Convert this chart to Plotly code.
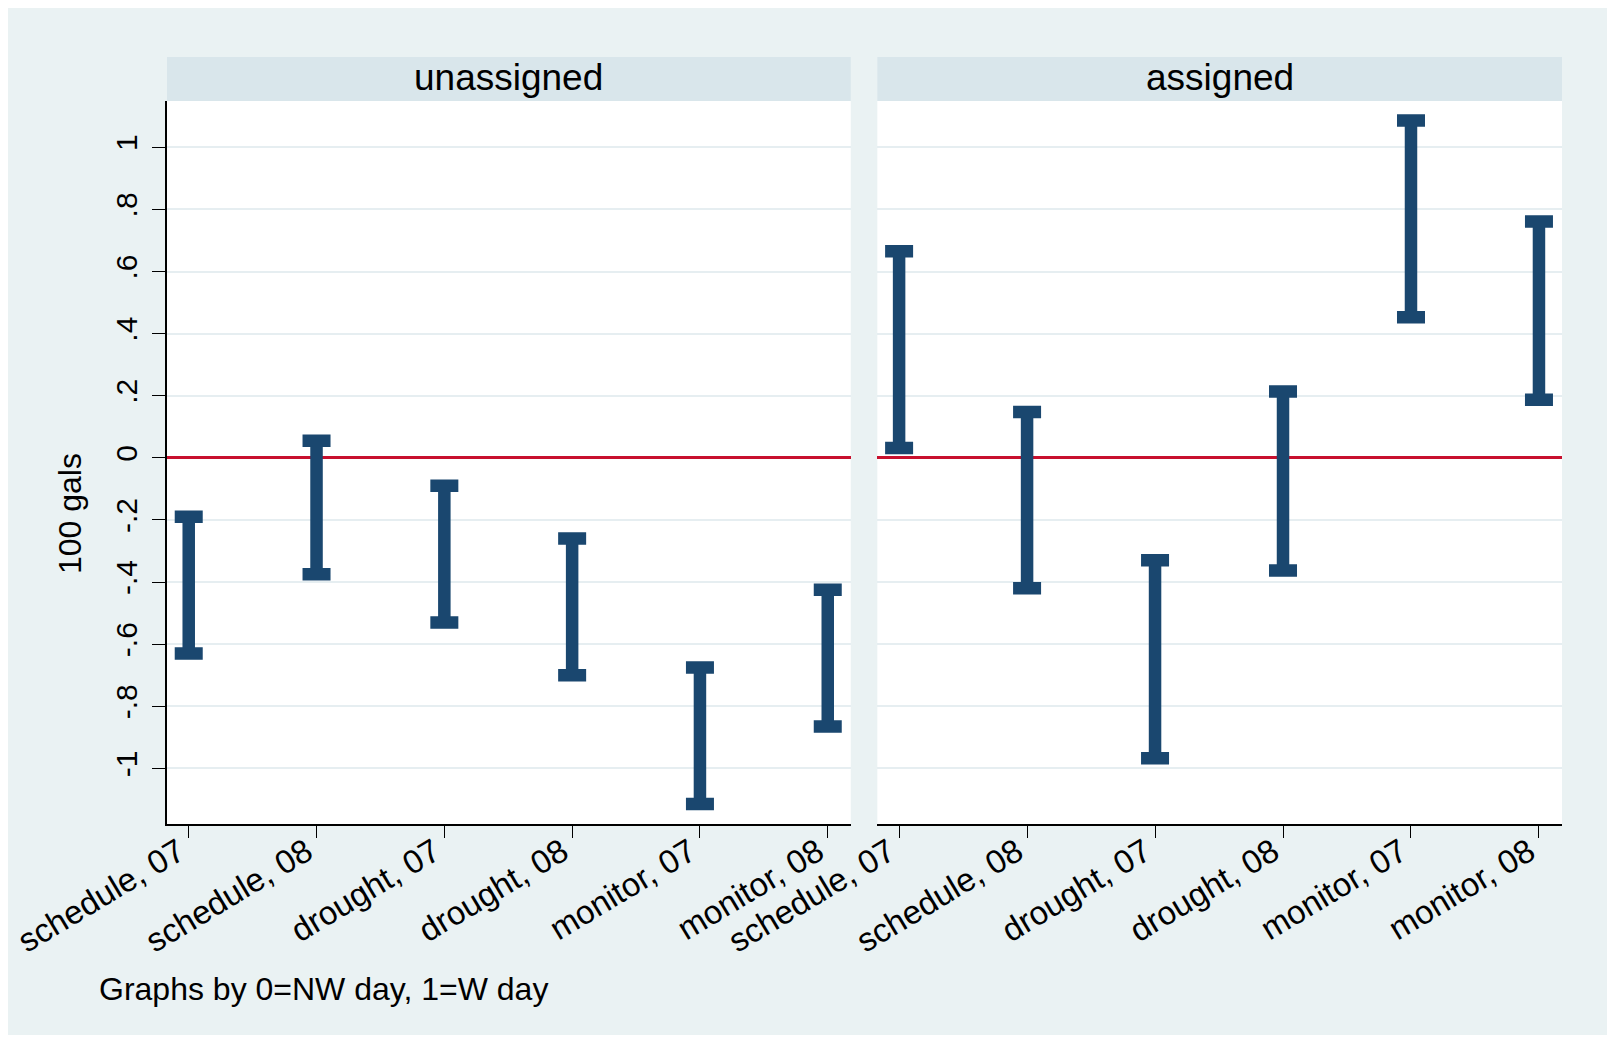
import plotly.graph_objects as go
from plotly.subplots import make_subplots

categories = ["schedule, 07", "schedule, 08", "drought, 07", "drought, 08", "monitor, 07", "monitor, 08"]
panels = ["unassigned", "assigned"]

unassigned_hi = [-0.19, 0.055, -0.09, -0.26, -0.675, -0.425]
unassigned_lo = [-0.63, -0.375, -0.53, -0.70, -1.115, -0.865]
assigned_hi = [0.665, 0.148, -0.33, 0.214, 1.086, 0.761]
assigned_lo = [0.032, -0.42, -0.967, -0.363, 0.453, 0.187]

ytick_vals = [1, 0.8, 0.6, 0.4, 0.2, 0, -0.2, -0.4, -0.6, -0.8, -1]
ytick_text = ["1", ".8", ".6", ".4", ".2", "0", "-.2", "-.4", "-.6", "-.8", "-1"]

footer = "Graphs by 0=NW day, 1=W day"
ytitle = "100 gals"

# page has an 8px body margin; figure sized so page is exactly filled
OFF = 8
W, H = 1615 - 2 * OFF, 1043 - 2 * OFF
L = 167 - OFF
T = 101 - OFF
R = W - (1562.5 - OFF)
B = H - (824 - OFF)
PW, PH = W - L - R, H - T - B

FONT = "Liberation Sans, Arial, Helvetica, sans-serif"
BAR = "#1a476f"
OUTER = "#eaf2f3"
STRIP = "#d9e6eb"
GRID = "#e6eef1"

def px_x(px):
    return (px - OFF - L) / PW

def px_y(py):
    return (H - B - (py - OFF)) / PH

fig = make_subplots(rows=1, cols=2, shared_yaxes=False, horizontal_spacing=0.0)

xs = list(range(1, len(categories) + 1))
for i, (hi, lo) in enumerate([(unassigned_hi, unassigned_lo), (assigned_hi, assigned_lo)]):
    fig.add_trace(go.Scatter(
        x=xs, y=lo, mode="markers",
        marker=dict(size=1, color="rgba(0,0,0,0)"),
        error_y=dict(type="data", symmetric=False,
                     array=[h - l for h, l in zip(hi, lo)],
                     arrayminus=[0] * len(lo),
                     thickness=12.5, width=14, color=BAR),
        showlegend=False, hoverinfo="skip"), row=1, col=i + 1)

left_dom = [0, px_x(851)]
right_dom = [px_x(877.6), 1]

xcommon = dict(range=[0.83, 6.18], tickmode="array", tickvals=xs, ticktext=categories,
               tickangle=-31, ticks="outside", ticklen=12, tickwidth=1.3, tickcolor="black",
               ticklabelstandoff=-18, ticklabelshift=-10, automargin=False,
               showline=True, linecolor="black", linewidth=1.5, showgrid=False, zeroline=False,
               tickfont=dict(family=FONT, size=33, color="black"))
ycommon = dict(range=[-1.179, 1.149], tickmode="array", tickvals=ytick_vals, automargin=False,
               showgrid=True, gridcolor=GRID, gridwidth=2,
               zeroline=True, zerolinecolor="#c8102e", zerolinewidth=2.5)

fig.update_layout(
    xaxis=dict(domain=left_dom, **xcommon),
    xaxis2=dict(domain=right_dom, **xcommon),
    yaxis=dict(ticktext=ytick_text, tickangle=-90, ticks="outside", ticklen=13, tickwidth=1.3,
               tickcolor="black", showline=True, linecolor="black", linewidth=1.5,
               ticklabelstandoff=3,
               tickfont=dict(family=FONT, size=30, color="black"), **ycommon),
    yaxis2=dict(showticklabels=False, ticks="", showline=False, **ycommon),
    width=W, height=H,
    margin=dict(l=L, r=R, t=T, b=B, autoexpand=False),
    paper_bgcolor=OUTER, plot_bgcolor="white",
)

shapes = []
for dom in (left_dom, right_dom):
    shapes.append(dict(type="rect", xref="paper", yref="paper", x0=dom[0], x1=dom[1],
                       y0=1.0, y1=px_y(57), fillcolor=STRIP, line=dict(width=0)))
fig.update_layout(shapes=shapes)

annotations = []
for dom, name in zip((left_dom, right_dom), panels):
    annotations.append(dict(text=name, xref="paper", yref="paper", x=(dom[0] + dom[1]) / 2,
                            y=px_y(78), xanchor="center", yanchor="middle", showarrow=False,
                            font=dict(family=FONT, size=37, color="black")))
annotations.append(dict(text=ytitle, xref="paper", yref="paper", x=px_x(70), y=px_y(514),
                        xanchor="center", yanchor="middle", textangle=-90, showarrow=False,
                        font=dict(family=FONT, size=32, color="black")))
annotations.append(dict(text=footer, xref="paper", yref="paper", x=px_x(97), y=px_y(989),
                        xanchor="left", yanchor="middle", showarrow=False,
                        font=dict(family=FONT, size=32, color="black")))
fig.update_layout(annotations=annotations)

fig.write_html("out.html")
